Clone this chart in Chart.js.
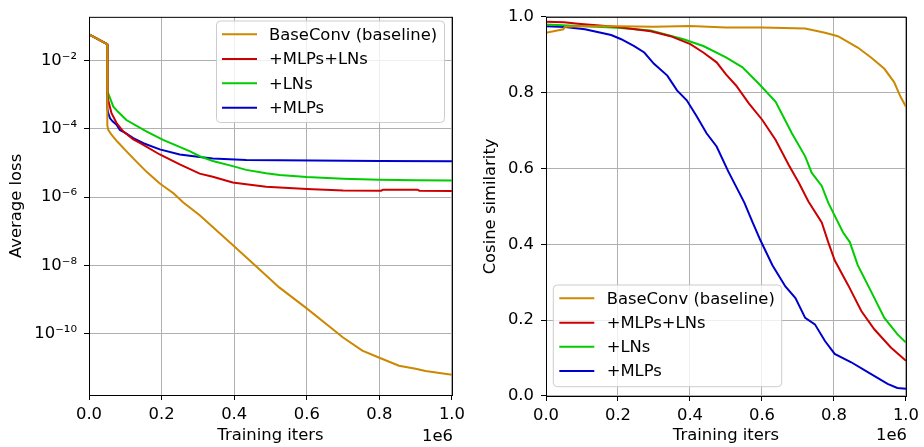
<!DOCTYPE html>
<html><head><meta charset="utf-8">
<script src="https://cdn.jsdelivr.net/npm/chart.js@4.4.1/dist/chart.umd.min.js"></script>
<style>
html,body{margin:0;padding:0;background:#fff;}
#wrap{position:relative;width:924px;height:447px;background:#fff;}
#c1{position:absolute;left:0;top:0;}
#c2{position:absolute;left:470px;top:0;}
</style></head><body>
<div id="wrap"><canvas id="c1" width="470" height="447"></canvas><canvas id="c2" width="454" height="447"></canvas></div>
<script>
// ---------- data ----------
const seriesNames = ['BaseConv (baseline)', '+MLPs+LNs', '+LNs', '+MLPs'];
const seriesColors = ['#cc8800', '#cc0000', '#00cc00', '#0000cc'];
const xTicks = [0, 200000, 400000, 600000, 800000, 1000000];
const lossTicks = [1e-10, 1e-8, 1e-6, 1e-4, 1e-2];
const cosTicks = [0, 0.2, 0.4, 0.6, 0.8, 1.0];
const xTitle = 'Training iters';
const lossTitle = 'Average loss';
const cosTitle = 'Cosine similarity';
const xMultiplier = '1e6';

// average loss  [iteration, loss]
const lossBaseline = [[0,5.89e-2],[50000,3.02e-2],[50500,1.26e-4],[53000,9.33e-5],[62000,6.76e-5],[76000,4.47e-5],[85000,3.55e-5],[100000,2.40e-5],[130000,1.12e-5],[158000,5.62e-6],[195000,2.51e-6],[223000,1.55e-6],[232000,1.32e-6],[259000,7.08e-7],[305000,2.95e-7],[396000,3.98e-8],[461000,9.33e-9],[524000,2.29e-9],[598000,5.75e-10],[670000,1.41e-10],[699000,7.94e-11],[753000,3.24e-11],[800000,2.00e-11],[854000,1.17e-11],[900000,9.55e-12],[927000,8.13e-12],[1000000,6.31e-12]];
const lossMlpLn = [[0,5.89e-2],[50000,3.02e-2],[51000,1.0e-3],[53000,6.92e-4],[62000,2.88e-4],[76000,1.48e-4],[94000,8.51e-5],[122000,4.90e-5],[140000,3.89e-5],[195000,1.78e-5],[250000,9.12e-6],[305000,4.90e-6],[341000,3.98e-6],[396000,2.69e-6],[433000,2.40e-6],[488000,2.04e-6],[600000,1.74e-6],[700000,1.58e-6],[805000,1.55e-6],[810000,1.66e-6],[905000,1.66e-6],[910000,1.55e-6],[1000000,1.51e-6]];
const lossLn = [[0,5.89e-2],[50000,3.02e-2],[50500,1.26e-3],[53000,1.10e-3],[67000,4.47e-4],[80000,3.16e-4],[103000,1.82e-4],[158000,8.51e-5],[204000,4.79e-5],[277000,2.24e-5],[305000,1.58e-5],[341000,1.15e-5],[396000,8.13e-6],[433000,6.31e-6],[488000,5.01e-6],[525000,4.47e-6],[600000,3.89e-6],[700000,3.47e-6],[800000,3.24e-6],[900000,3.16e-6],[1000000,3.09e-6]];
const lossMlp = [[0,5.89e-2],[50000,3.02e-2],[50500,3.98e-4],[53000,2.88e-4],[58000,2.04e-4],[65000,1.66e-4],[76000,1.32e-4],[85000,9.33e-5],[100000,7.59e-5],[122000,5.37e-5],[150000,3.80e-5],[195000,2.51e-5],[250000,1.78e-5],[305000,1.51e-5],[341000,1.35e-5],[433000,1.23e-5],[525000,1.20e-5],[800000,1.15e-5],[1000000,1.12e-5]];

// cosine similarity  [iteration, similarity]
const cosBaseline = [[0,0.958],[48000,0.967],[53000,0.974],[100000,0.975],[200000,0.975],[300000,0.974],[400000,0.976],[500000,0.972],[600000,0.972],[720000,0.969],[775000,0.958],[811000,0.949],[866000,0.919],[903000,0.893],[940000,0.863],[967000,0.828],[985000,0.789],[1000000,0.763]];
const cosMlpLn = [[0,0.987],[50000,0.986],[89000,0.982],[199000,0.973],[291000,0.962],[346000,0.949],[401000,0.928],[437000,0.906],[474000,0.880],[500000,0.848],[528000,0.819],[564000,0.771],[601000,0.728],[638000,0.675],[674000,0.610],[702000,0.563],[729000,0.513],[766000,0.458],[784000,0.406],[802000,0.358],[839000,0.293],[876000,0.224],[912000,0.176],[958000,0.128],[1000000,0.093]];
const cosLn = [[0,0.980],[199000,0.971],[291000,0.964],[382000,0.941],[437000,0.923],[500000,0.893],[546000,0.867],[592000,0.823],[638000,0.776],[683000,0.693],[720000,0.632],[738000,0.589],[766000,0.554],[784000,0.510],[825000,0.432],[844000,0.406],[866000,0.345],[903000,0.276],[940000,0.206],[976000,0.163],[1000000,0.141]];
const cosMlp = [[0,0.975],[53000,0.973],[108000,0.967],[181000,0.952],[209000,0.941],[245000,0.923],[273000,0.906],[300000,0.876],[337000,0.845],[364000,0.806],[391000,0.780],[419000,0.737],[446000,0.693],[474000,0.658],[506000,0.593],[551000,0.510],[574000,0.458],[596000,0.410],[629000,0.345],[665000,0.289],[693000,0.258],[720000,0.206],[747000,0.189],[775000,0.145],[802000,0.111],[848000,0.089],[894000,0.063],[949000,0.032],[976000,0.021],[1000000,0.019]];

// ---------- chart building ----------
const FONT = 'DejaVu Sans';
const FS = 16.4;
Chart.defaults.font.family = FONT;
Chart.defaults.font.size = FS;
Chart.defaults.color = '#000';

const SUP = {'-':'\u207B','0':'\u2070','1':'\u00B9','2':'\u00B2','3':'\u00B3','4':'\u2074','5':'\u2075','6':'\u2076','7':'\u2077','8':'\u2078','9':'\u2079'};
function powLabel(v){
  const e = Math.round(Math.log10(v));
  return '10' + String(e).split('').map(c => SUP[c]).join('');
}

function toDatasets(list){
  return list.map((d, i) => ({
    label: seriesNames[i],
    data: d.map(p => ({x: p[0], y: p[1]})),
    borderColor: seriesColors[i],
    backgroundColor: seriesColors[i],
    borderWidth: 2,
    pointRadius: 0,
    tension: 0,
    fill: false
  }));
}

const decor = {
  id: 'decor',
  afterDatasetsDraw(chart){
    const {ctx, chartArea: a} = chart;
    ctx.save();
    ctx.strokeStyle = '#000';
    ctx.lineWidth = 1;
    ctx.strokeRect(a.left + 0.5, a.top + 0.5, a.right - a.left, a.bottom - a.top);
    ctx.restore();
  },
  afterDraw(chart, args, o){
    const {ctx, chartArea: a} = chart;
    ctx.save();
    ctx.font = FS + 'px "' + FONT + '"';
    ctx.fillStyle = '#000';
    ctx.textAlign = 'right';
    ctx.textBaseline = 'middle';
    ctx.fillText(xMultiplier, a.right + 1, o.multY);
    const b = o.box;
    ctx.beginPath();
    ctx.roundRect(b.x, b.y, b.w, b.h, 4);
    ctx.fillStyle = 'rgba(255,255,255,0.8)';
    ctx.fill();
    ctx.strokeStyle = '#cccccc';
    ctx.lineWidth = 1;
    ctx.stroke();
    ctx.textAlign = 'left';
    chart.data.datasets.forEach((ds, i) => {
      const y = o.rows[i];
      ctx.strokeStyle = ds.borderColor;
      ctx.lineWidth = 2;
      ctx.beginPath();
      ctx.moveTo(o.lineX[0], y);
      ctx.lineTo(o.lineX[1], y);
      ctx.stroke();
      ctx.fillStyle = '#000';
      ctx.fillText(ds.label, o.textX, y + 1);
    });
    ctx.restore();
  }
};

function makeChart(id, datasets, yOpts, layout, legendOpts){
  return new Chart(document.getElementById(id), {
    type: 'line',
    data: {datasets},
    options: {
      responsive: false,
      animation: false,
      devicePixelRatio: 1,
      layout: {padding: {left: 0, top: layout.top, right: layout.right, bottom: 0}},
      plugins: {legend: {display: false}, tooltip: {enabled: false}, decor: legendOpts},
      scales: {
        x: {
          type: 'linear', min: 0, max: 1000000,
          afterBuildTicks: s => { s.ticks = xTicks.map(v => ({value: v})); },
          afterFit: s => { s.height = layout.xHeight; },
          ticks: {callback: v => (v / 1e6).toFixed(1), padding: 5, maxRotation: 0, font: {size: FS}},
          grid: {color: '#b0b0b0', lineWidth: 1, tickColor: '#000', tickLength: 5, tickWidth: 1},
          border: {display: false},
          title: {display: true, text: xTitle, font: {size: FS}, padding: {top: 0, bottom: 1}}
        },
        y: Object.assign({
          afterFit: s => { s.width = layout.yWidth; },
          grid: {color: '#b0b0b0', lineWidth: 1, tickColor: '#000', tickLength: 5, tickWidth: 1},
          border: {display: false}
        }, yOpts)
      }
    },
    plugins: [decor]
  });
}

makeChart('c1', toDatasets([lossBaseline, lossMlpLn, lossLn, lossMlp]), {
  type: 'logarithmic',
  min: Math.pow(10, -11.79), max: Math.pow(10, -0.72),
  afterBuildTicks: s => { s.ticks = lossTicks.map(v => ({value: v})); },
  ticks: {callback: v => powLabel(v), padding: 7, font: {size: FS}},
  title: {display: true, text: lossTitle, font: {size: FS}, padding: {top: 7, bottom: 0}}
}, {top: 12, right: 17, xHeight: 52, yWidth: 89}, {
  box: {x: 216.5, y: 21, w: 228, h: 101.5},
  rows: [34.3, 59, 83.3, 107.7], lineX: [222, 257], textX: 269, multY: 437
});

makeChart('c2', toDatasets([cosBaseline, cosMlpLn, cosLn, cosMlp]), {
  type: 'linear', min: 0, max: 1,
  afterBuildTicks: s => { s.ticks = cosTicks.map(v => ({value: v})); },
  ticks: {callback: v => v.toFixed(1), padding: 7, font: {size: FS}},
  title: {display: true, text: cosTitle, font: {size: FS}, padding: {top: 11, bottom: 0}}
}, {top: 12, right: 14, xHeight: 51, yWidth: 76}, {
  box: {x: 83.3, y: 285, w: 228.4, h: 101.7},
  rows: [298.3, 322.7, 346.7, 371], lineX: [89.3, 124.3], textX: 136.7, multY: 436
});
</script>
</body></html>
